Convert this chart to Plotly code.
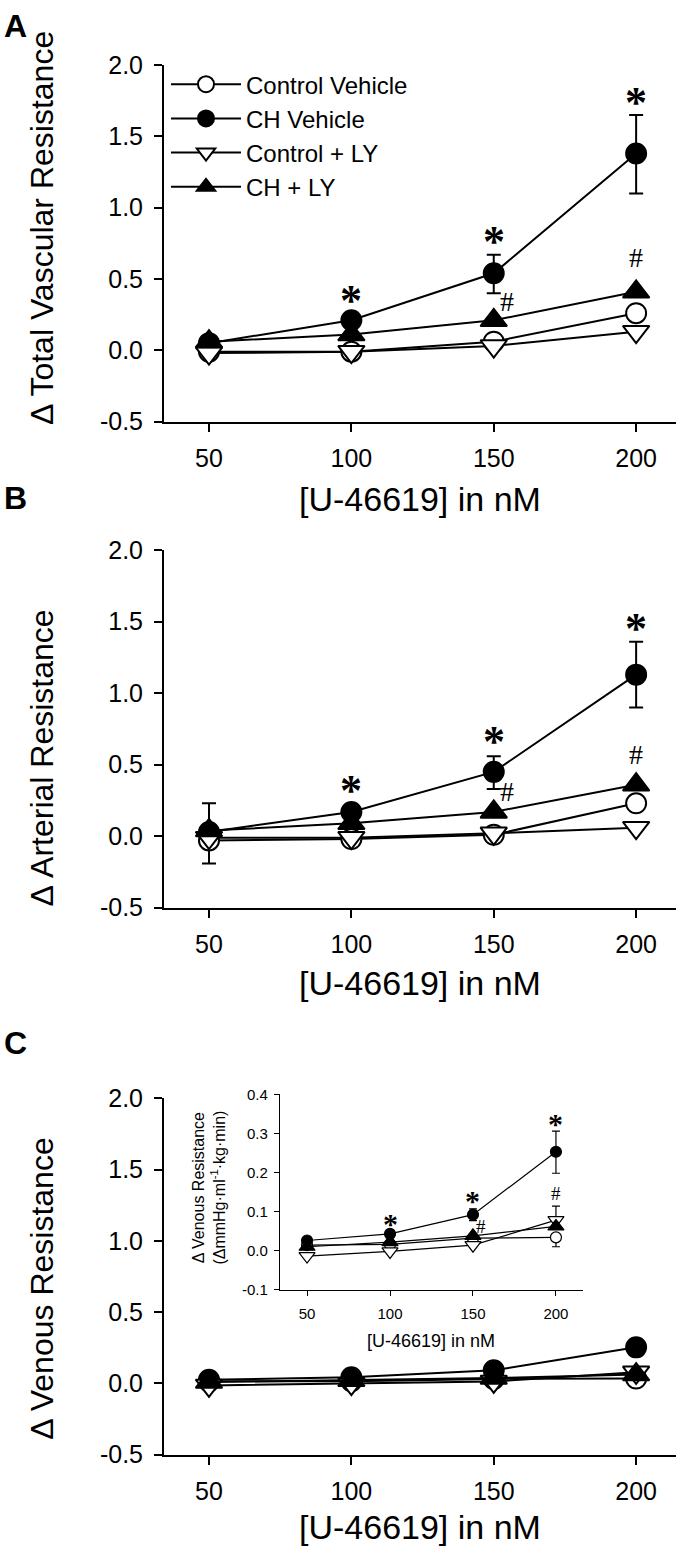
import plotly.graph_objects as go

# ---------------- data ----------------
doses = [50, 100, 150, 200]
series_names = ["Control Vehicle", "CH Vehicle", "Control + LY", "CH + LY"]

# Panel A: total vascular resistance
tvr_ctrl_veh = [-0.01, -0.01, 0.06, 0.26]
tvr_ch_veh = [0.05, 0.21, 0.54, 1.38]
tvr_ctrl_ly = [-0.02, -0.01, 0.03, 0.13]
tvr_ch_ly = [0.06, 0.11, 0.21, 0.41]
tvr_ch_veh_err_up = [None, None, 0.13, 0.27]
tvr_ch_veh_err_dn = [None, None, 0.14, 0.28]
tvr_star_y = [None, 0.40, 0.81, 1.79]
tvr_hash_x = [154.5, 200]
tvr_hash_y = [0.34, 0.65]

# Panel B: arterial resistance
art_ctrl_veh = [-0.03, -0.02, 0.01, 0.23]
art_ch_veh = [0.03, 0.17, 0.45, 1.13]
art_ctrl_ly = [-0.01, -0.01, 0.02, 0.06]
art_ch_ly = [0.04, 0.09, 0.17, 0.36]
art_ch_veh_err_up = [None, None, 0.11, 0.23]
art_ch_veh_err_dn = [None, None, 0.12, 0.23]
art_ch_ly_err_up = [0.19, None, None, None]
art_ch_ly_err_dn = [0.0, None, None, None]
art_ctrl_veh_err_up = [0.0, None, None, None]
art_ctrl_veh_err_dn = [0.16, None, None, None]
art_star_y = [None, 0.37, 0.71, 1.50]
art_hash_x = [154.5, 200]
art_hash_y = [0.31, 0.57]

# Panel C: venous resistance (main + inset share values)
ven_ctrl_veh = [0.014, 0.016, 0.032, 0.034]
ven_ch_veh = [0.026, 0.043, 0.092, 0.253]
ven_ctrl_ly = [-0.014, -0.002, 0.014, 0.078]
ven_ch_ly = [0.010, 0.022, 0.038, 0.062]
ven_ch_veh_err_up = [None, None, 0.015, 0.053]
ven_ch_veh_err_dn = [None, None, 0.015, 0.055]
ven_ctrl_ly_err_up = [None, None, None, 0.036]
ven_ctrl_ly_err_dn = [None, None, None, 0.0]
ven_ctrl_veh_err_up = [None, None, None, 0.0]
ven_ctrl_veh_err_dn = [None, None, None, 0.024]
ven_star_y = [None, 0.082, 0.142, 0.338]
ven_hash_x = [155, 200]
ven_hash_y = [0.063, 0.146]

main_yticks = [-0.5, 0.0, 0.5, 1.0, 1.5, 2.0]
inset_yticks = [-0.1, 0.0, 0.1, 0.2, 0.3, 0.4]

# ---------------- style ----------------
FONT = "Liberation Sans, Arial, sans-serif"
SERIF = "Liberation Serif, Times New Roman, serif"
W, H = 680, 1564
OFF = 8  # page offset compensation (body margin removed below)

def px_x(x):
    return (x + OFF) / W

def px_y(y):
    return 1 - (y + OFF) / H

styles = {
    "Control Vehicle": dict(symbol="circle", color="white"),
    "CH Vehicle": dict(symbol="circle", color="black"),
    "Control + LY": dict(symbol="triangle-down", color="white"),
    "CH + LY": dict(symbol="triangle-up", color="black"),
}

fig = go.Figure()

def add_errors(xa, ya, yvals, up, dn, width, thick):
    xs, ys, us, ds = [], [], [], []
    for d, v, u, m in zip(doses, yvals, up, dn):
        if u is None:
            continue
        xs.append(d); ys.append(v); us.append(u); ds.append(m)
    fig.add_trace(go.Scatter(
        x=xs, y=ys, mode="markers", marker=dict(size=1, opacity=0),
        error_y=dict(type="data", array=us, arrayminus=ds, symmetric=False,
                     color="black", thickness=thick, width=width),
        xaxis=xa, yaxis=ya, showlegend=False, hoverinfo="skip"))

def add_series(xa, ya, data, msize, lw, legend):
    for name, vals in zip(series_names, data):
        st = styles[name]
        tri = st["symbol"] != "circle"
        fig.add_trace(go.Scatter(
            x=doses, y=vals, mode="lines+markers", name=name,
            line=dict(color="black", width=lw),
            marker=dict(symbol=st["symbol"], size=msize + (3 if tri else 0),
                        color=st["color"], line=dict(color="black", width=lw)),
            xaxis=xa, yaxis=ya, showlegend=legend))

def add_marks(xr, yr, star_y, hash_x, hash_y, star_size, hash_size, star_shift):
    for d, s in zip(doses, star_y):
        if s is None:
            continue
        fig.add_annotation(x=d, y=s, xref=xr, yref=yr, text="<b>*</b>", showarrow=False,
                           font=dict(family=SERIF, size=star_size, color="black"),
                           yshift=star_shift)
    for hx, hy in zip(hash_x, hash_y):
        fig.add_annotation(x=hx, y=hy, xref=xr, yref=yr, text="#", showarrow=False,
                           font=dict(family=SERIF, size=hash_size, color="black"))

# Panel A
add_errors("x", "y", tvr_ch_veh, tvr_ch_veh_err_up, tvr_ch_veh_err_dn, 7, 2)
add_series("x", "y", [tvr_ctrl_veh, tvr_ch_veh, tvr_ctrl_ly, tvr_ch_ly], 20, 2, True)
add_marks("x", "y", tvr_star_y, tvr_hash_x, tvr_hash_y, 44, 28, -7)

# Panel B
add_errors("x2", "y2", art_ch_veh, art_ch_veh_err_up, art_ch_veh_err_dn, 7, 2)
add_errors("x2", "y2", art_ch_ly, art_ch_ly_err_up, art_ch_ly_err_dn, 7, 2)
add_errors("x2", "y2", art_ctrl_veh, art_ctrl_veh_err_up, art_ctrl_veh_err_dn, 7, 2)
add_series("x2", "y2", [art_ctrl_veh, art_ch_veh, art_ctrl_ly, art_ch_ly], 20, 2, False)
add_marks("x2", "y2", art_star_y, art_hash_x, art_hash_y, 44, 28, -7)

# Panel C main
add_series("x3", "y3", [ven_ctrl_veh, ven_ch_veh, ven_ctrl_ly, ven_ch_ly], 20, 2, False)

# Panel C inset
add_errors("x4", "y4", ven_ch_veh, ven_ch_veh_err_up, ven_ch_veh_err_dn, 4, 1.2)
add_errors("x4", "y4", ven_ctrl_ly, ven_ctrl_ly_err_up, ven_ctrl_ly_err_dn, 4, 1.2)
add_errors("x4", "y4", ven_ctrl_veh, ven_ctrl_veh_err_up, ven_ctrl_veh_err_dn, 4, 1.2)
add_series("x4", "y4", [ven_ctrl_veh, ven_ch_veh, ven_ctrl_ly, ven_ch_ly], 11, 1.2, False)
add_marks("x4", "y4", ven_star_y, ven_hash_x, ven_hash_y, 30, 19, -5)

# ---------------- axes ----------------
def tick_text(vals):
    return [("%.1f" % v) for v in vals]

xdom = [px_x(156), px_x(668)]
panels = [
    ("", [px_y(407), px_y(44)]),
    ("2", [px_y(902), px_y(538)]),
    ("3", [px_y(1459), px_y(1096)]),
]
layout = {}
for suf, ydom in panels:
    layout["xaxis" + suf] = dict(
        domain=xdom, range=[34.2, 214.0], anchor="y" + suf,
        tickmode="array", tickvals=doses, ticktext=[str(d) for d in doses],
        ticks="outside", ticklen=8, tickwidth=2, tickcolor="black",
        showline=True, linewidth=2, linecolor="black",
        showgrid=False, zeroline=False, ticklabelstandoff=5,
        tickfont=dict(family=FONT, size=25, color="black"))
    layout["yaxis" + suf] = dict(
        domain=ydom, range=[-0.5, 2.0], anchor="x" + suf,
        tickmode="array", tickvals=main_yticks, ticktext=tick_text(main_yticks),
        ticks="outside", ticklen=8, tickwidth=2, tickcolor="black",
        showline=True, linewidth=2, linecolor="black",
        showgrid=False, zeroline=False, ticklabelstandoff=6,
        tickfont=dict(family=FONT, size=25, color="black"))

layout["xaxis4"] = dict(
    domain=[px_x(272), px_x(575)], range=[33.7, 216.3], anchor="y4",
    tickmode="array", tickvals=doses, ticktext=[str(d) for d in doses],
    ticks="outside", ticklen=5, tickwidth=1.2, tickcolor="black",
    showline=True, linewidth=1.3, linecolor="black",
    showgrid=False, zeroline=False, ticklabelstandoff=5,
    tickfont=dict(family=FONT, size=15, color="black"))
layout["yaxis4"] = dict(
    domain=[px_y(1291), px_y(1092)], range=[-0.1, 0.4], anchor="x4",
    tickmode="array", tickvals=inset_yticks, ticktext=tick_text(inset_yticks),
    ticks="outside", ticklen=5, tickwidth=1.2, tickcolor="black",
    showline=True, linewidth=1.3, linecolor="black",
    showgrid=False, zeroline=False, ticklabelstandoff=3,
    tickfont=dict(family=FONT, size=15, color="black"))

fig.update_layout(
    width=W, height=H, margin=dict(l=0, r=0, t=0, b=0),
    paper_bgcolor="white", plot_bgcolor="rgba(0,0,0,0)",
    font=dict(family=FONT, color="black"),
    showlegend=True,
    legend=dict(x=px_x(158), y=px_y(41), xanchor="left", yanchor="top",
                font=dict(family=FONT, size=24, color="black"),
                bgcolor="rgba(0,0,0,0)", itemwidth=70, tracegroupgap=0),
    **layout)

# ---------------- titles / labels ----------------
def ann(text, x, y, size, angle=0, bold=False, family=FONT, xanchor="center"):
    fig.add_annotation(text=("<b>%s</b>" % text) if bold else text,
                       x=x, y=y, xref="paper", yref="paper", showarrow=False,
                       textangle=angle, xanchor=xanchor, yanchor="middle",
                       font=dict(family=family, size=size, color="black"))

xt = "[U-46619] in nM"
ann("A", px_x(-6), px_y(4), 32, bold=True, xanchor="left")
ann("B", px_x(-6), px_y(485), 32, bold=True, xanchor="left")
ann("C", px_x(-6), px_y(1040), 32, bold=True, xanchor="left")

ann("\u0394 Total Vascular Resistance", px_x(34), px_y(210), 32, angle=-90)
ann("\u0394 Arterial Resistance", px_x(34), px_y(750), 32, angle=-90)
ann("\u0394 Venous Resistance", px_x(34), px_y(1290), 32, angle=-90)

ann(xt, px_x(412), px_y(486), 34)
ann(xt, px_x(412), px_y(979), 34)
ann(xt, px_x(412), px_y(1533), 34)

ann("\u0394 Venous Resistance<br>(\u0394mmHg\u00b7ml<sup>-1</sup>\u00b7kg\u00b7min)",
    px_x(201), px_y(1187), 16, angle=-90)
ann(xt, px_x(423), px_y(1343), 18)

fig.write_html("out.html",
               config={"displayModeBar": False},
               post_script="document.body.style.margin='0';document.body.style.overflow='hidden';")
